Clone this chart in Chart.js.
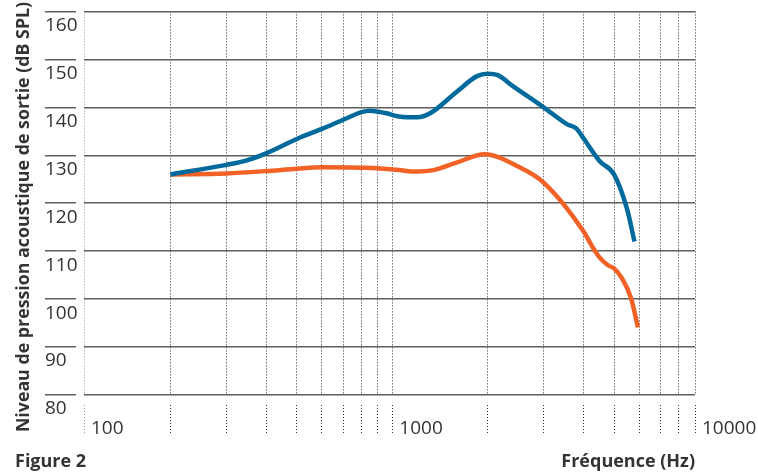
<!DOCTYPE html>
<html>
<head>
<meta charset="utf-8">
<script src="https://cdn.jsdelivr.net/npm/chart.js@4/dist/chart.umd.min.js"></script>
<style>
  html, body { margin: 0; padding: 0; background: #fff; }
  canvas { display: block; }
</style>
</head>
<body>
<canvas id="chart" width="758" height="475"></canvas>
<script>
// Output sound pressure level (dB SPL) against frequency (Hz), two curves.
const freqBlue = [200, 300, 350, 400, 500, 600, 700, 800, 850, 950, 1050, 1200, 1320, 1600, 1850, 2000, 2150, 2400, 3000, 3550, 3800, 4000, 4500, 5000, 5500, 5800];
const splBlue  = [126.0, 128.0, 129.0, 130.4, 133.4, 135.5, 137.4, 139.0, 139.3, 138.8, 138.1, 137.9, 138.8, 143.3, 146.5, 147.0, 146.7, 144.4, 140.0, 136.5, 135.6, 133.6, 128.8, 126.0, 118.7, 112.0];

const freqOrange = [200, 300, 400, 500, 600, 800, 900, 1050, 1200, 1350, 1600, 1950, 2500, 3000, 4000, 4250, 4500, 4800, 5000, 5300, 5650, 5950];
const splOrange  = [126.0, 126.2, 126.7, 127.2, 127.5, 127.4, 127.3, 126.9, 126.6, 126.9, 128.5, 130.2, 127.6, 124.3, 114.2, 111.2, 108.7, 107.0, 106.4, 104.3, 100.3, 94.1];

// Frequency axis: frame edges and the dotted grid lines inside it
const xFrame = [106.7, 9000];
const xGrid = [200, 300, 400, 500, 600, 700, 800, 900, 1000, 2000, 3000, 4000, 5000, 6000, 7000, 8000, 9000];
const xTickFreqs = [106.7, 1000, 9000];
const xTickLabels = ['100', '1000', '10000'];

// Level axis
const yMin = 80, yMax = 160, yStep = 10;

const FONT = "'Open Sans', 'Noto Sans', 'DejaVu Sans', sans-serif";
const TEXT = '#333333';
const GRID_H = '#5e5e5e';
const GRID_V = '#2a2a2a';
const GRID_EDGE = '#9a9a9a';
const DOTS = [1, 2];

const toPoints = (f, v) => f.map((x, i) => ({ x, y: v[i] }));

// Marks outside the plot frame: short level bars at the left, dotted stubs
// under the frequency grid, the rotated axis title and the figure caption.
const frameDecor = {
  id: 'frameDecor',
  afterDraw(chart) {
    const { ctx, chartArea } = chart;
    const xs = chart.scales.x, ys = chart.scales.y;
    ctx.save();

    ctx.strokeStyle = GRID_H;
    ctx.lineWidth = 1.5;
    ys.ticks.forEach(t => {
      const py = Math.round(ys.getPixelForValue(t.value) - 0.75) + 0.75;
      ctx.beginPath();
      ctx.moveTo(45, py);
      ctx.lineTo(chartArea.left - 8, py);
      ctx.stroke();
    });

    ctx.lineWidth = 1;
    ctx.setLineDash(DOTS);
    xs.ticks.forEach(t => {
      const px = Math.round(xs.getPixelForValue(t.value) - 0.5) + 0.5;
      ctx.strokeStyle = t.value === xFrame[0] ? GRID_EDGE : GRID_V;
      ctx.beginPath();
      ctx.moveTo(px, chartArea.bottom + 10);
      ctx.lineTo(px, chartArea.bottom + 38);
      ctx.stroke();
    });
    ctx.setLineDash([]);

    ctx.fillStyle = TEXT;
    ctx.font = 'bold 18px ' + FONT;
    ctx.textAlign = 'left';
    ctx.textBaseline = 'alphabetic';
    ctx.fillText('Figure 2', 15, 467);

    ctx.translate(29, 217);
    ctx.rotate(-Math.PI / 2);
    ctx.textAlign = 'center';
    ctx.font = 'bold 17.8px ' + FONT;
    ctx.fillText('Niveau de pression acoustique de sortie (dB SPL)', 0, 0);
    ctx.restore();
  }
};

new Chart(document.getElementById('chart'), {
  type: 'line',
  data: {
    datasets: [
      { data: toPoints(freqBlue, splBlue), borderColor: '#006a9c' },
      { data: toPoints(freqOrange, splOrange), borderColor: '#f26125' }
    ]
  },
  options: {
    responsive: false,
    animation: false,
    devicePixelRatio: 1,
    layout: { padding: { left: 45, right: 63, top: 7, bottom: 0 } },
    plugins: {
      legend: { display: false },
      tooltip: { enabled: false },
      title: { display: false }
    },
    elements: {
      point: { radius: 0 },
      line: { borderWidth: 4.5, cubicInterpolationMode: 'monotone', borderCapStyle: 'butt', borderJoinStyle: 'round', fill: false }
    },
    scales: {
      x: {
        type: 'logarithmic',
        min: xFrame[0],
        max: xFrame[1],
        afterBuildTicks: s => { s.ticks = [xFrame[0], ...xGrid].map(v => ({ value: v })); },
        afterFit: s => { s.height = 80; },
        grid: {
          drawTicks: true,
          tickLength: 22,
          tickWidth: 0,
          lineWidth: 1,
          borderDash: DOTS,
          color: c => (c.tick && c.tick.value === xFrame[0]) ? GRID_EDGE : GRID_V
        },
        border: { display: false, dash: DOTS },
        ticks: {
          autoSkip: false,
          maxRotation: 0,
          minRotation: 0,
          align: 'start',
          labelOffset: 7,
          padding: 0,
          color: TEXT,
          font: { family: FONT, size: 19 },
          callback: v => {
            const k = xTickFreqs.indexOf(v);
            return k >= 0 ? xTickLabels[k] : '';
          }
        },
        title: {
          display: true,
          text: 'Fréquence (Hz)',
          align: 'end',
          color: TEXT,
          font: { family: FONT, size: 18, weight: 'bold' },
          padding: { top: 0, bottom: 2 }
        }
      },
      y: {
        min: yMin,
        max: yMax,
        afterFit: s => { s.width = 39; },
        grid: { drawTicks: false, lineWidth: 1.5, color: GRID_H },
        border: { display: false },
        ticks: {
          stepSize: yStep,
          crossAlign: 'far',
          labelOffset: 14,
          padding: 0,
          color: TEXT,
          font: { family: FONT, size: 19 }
        }
      }
    }
  },
  plugins: [frameDecor]
});
</script>
</body>
</html>
